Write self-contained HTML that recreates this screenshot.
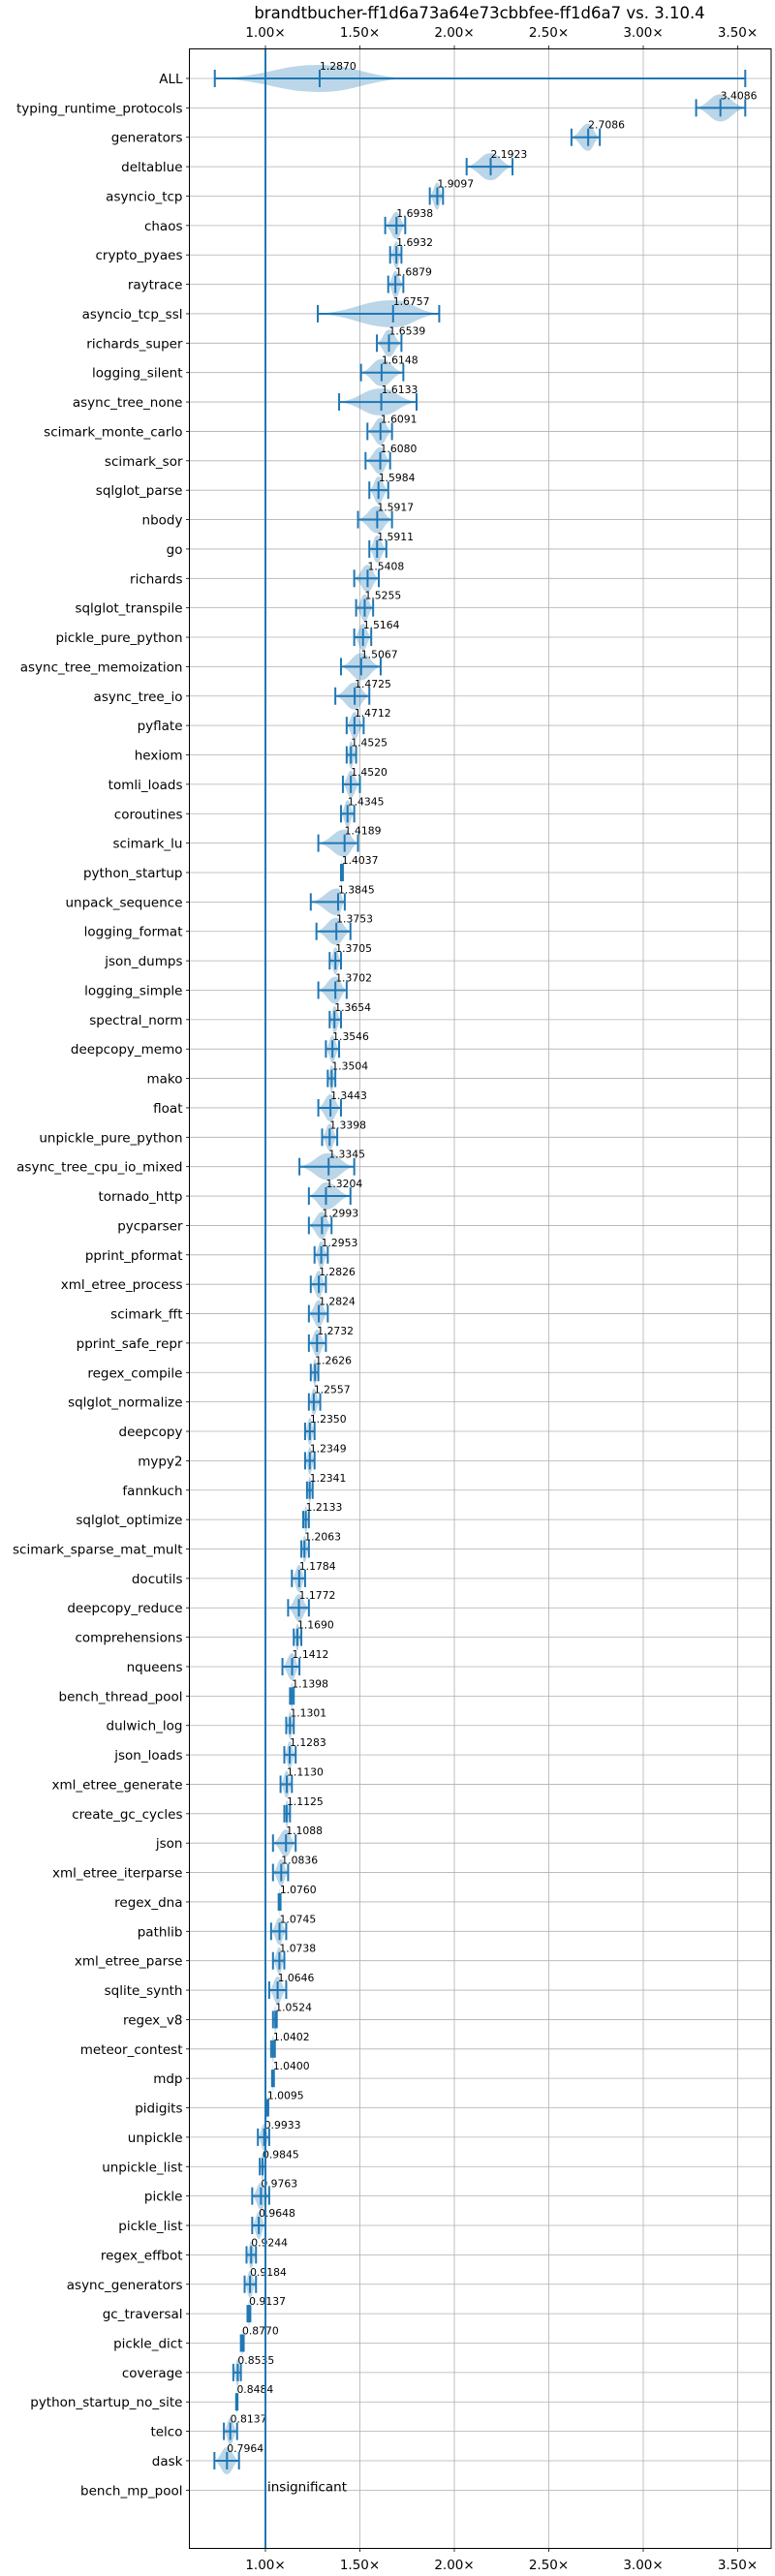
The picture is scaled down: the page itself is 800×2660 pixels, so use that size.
<!DOCTYPE html>
<html><head><meta charset="utf-8"><style>
html,body{margin:0;padding:0;background:#fff}
svg{display:block;font-family:"DejaVu Sans","Liberation Sans",sans-serif}
</style></head><body>
<svg id="chart" width="800" height="2660" viewBox="0 0 800 2660" xmlns="http://www.w3.org/2000/svg">
<text x="495" y="19" font-size="16.5" text-anchor="middle" fill="#000">brandtbucher-ff1d6a73a64e73cbbfee-ff1d6a7 vs. 3.10.4</text>
<g id="grid"></g><g id="marks"></g><g id="axes"></g>
</svg>
<script>
const benchmarks = ["ALL","typing_runtime_protocols","generators","deltablue","asyncio_tcp","chaos","crypto_pyaes","raytrace","asyncio_tcp_ssl","richards_super","logging_silent","async_tree_none","scimark_monte_carlo","scimark_sor","sqlglot_parse","nbody","go","richards","sqlglot_transpile","pickle_pure_python","async_tree_memoization","async_tree_io","pyflate","hexiom","tomli_loads","coroutines","scimark_lu","python_startup","unpack_sequence","logging_format","json_dumps","logging_simple","spectral_norm","deepcopy_memo","mako","float","unpickle_pure_python","async_tree_cpu_io_mixed","tornado_http","pycparser","pprint_pformat","xml_etree_process","scimark_fft","pprint_safe_repr","regex_compile","sqlglot_normalize","deepcopy","mypy2","fannkuch","sqlglot_optimize","scimark_sparse_mat_mult","docutils","deepcopy_reduce","comprehensions","nqueens","bench_thread_pool","dulwich_log","json_loads","xml_etree_generate","create_gc_cycles","json","xml_etree_iterparse","regex_dna","pathlib","xml_etree_parse","sqlite_synth","regex_v8","meteor_contest","mdp","pidigits","unpickle","unpickle_list","pickle","pickle_list","regex_effbot","async_generators","gc_traversal","pickle_dict","coverage","python_startup_no_site","telco","dask","bench_mp_pool"];
const medians = [1.2870,3.4086,2.7086,2.1923,1.9097,1.6938,1.6932,1.6879,1.6757,1.6539,1.6148,1.6133,1.6091,1.6080,1.5984,1.5917,1.5911,1.5408,1.5255,1.5164,1.5067,1.4725,1.4712,1.4525,1.4520,1.4345,1.4189,1.4037,1.3845,1.3753,1.3705,1.3702,1.3654,1.3546,1.3504,1.3443,1.3398,1.3345,1.3204,1.2993,1.2953,1.2826,1.2824,1.2732,1.2626,1.2557,1.2350,1.2349,1.2341,1.2133,1.2063,1.1784,1.1772,1.1690,1.1412,1.1398,1.1301,1.1283,1.1130,1.1125,1.1088,1.0836,1.0760,1.0745,1.0738,1.0646,1.0524,1.0402,1.0400,1.0095,0.9933,0.9845,0.9763,0.9648,0.9244,0.9184,0.9137,0.8770,0.8535,0.8484,0.8137,0.7964,null];
const lows = [0.732,3.28,2.62,2.065,1.87,1.634,1.66,1.65,1.277,1.59,1.506,1.39,1.54,1.53,1.55,1.49,1.55,1.47,1.48,1.47,1.40,1.37,1.43,1.43,1.41,1.40,1.28,1.40,1.24,1.27,1.34,1.28,1.34,1.32,1.33,1.28,1.30,1.18,1.23,1.23,1.26,1.24,1.23,1.23,1.24,1.23,1.21,1.21,1.22,1.20,1.19,1.14,1.12,1.15,1.09,1.13,1.11,1.10,1.08,1.10,1.04,1.04,1.07,1.03,1.04,1.02,1.04,1.03,1.035,1.005,0.96,0.97,0.93,0.93,0.90,0.89,0.905,0.87,0.83,0.845,0.78,0.73,null];
const highs = [3.54,3.54,2.77,2.308,1.94,1.74,1.72,1.73,1.92,1.72,1.73,1.80,1.67,1.66,1.65,1.67,1.64,1.60,1.57,1.56,1.61,1.55,1.52,1.48,1.50,1.47,1.49,1.41,1.42,1.45,1.40,1.43,1.40,1.39,1.37,1.40,1.38,1.47,1.45,1.35,1.33,1.32,1.33,1.32,1.28,1.29,1.26,1.26,1.25,1.23,1.23,1.21,1.23,1.19,1.18,1.15,1.15,1.16,1.14,1.13,1.16,1.12,1.08,1.11,1.10,1.11,1.06,1.05,1.045,1.015,1.02,1.00,1.02,1.00,0.95,0.95,0.92,0.885,0.87,0.852,0.85,0.86,null];
const xTicks = [1.0,1.5,2.0,2.5,3.0,3.5];
const xTickLabels = ["1.00×","1.50×","2.00×","2.50×","3.00×","3.50×"];

const NS="http://www.w3.org/2000/svg";
const L=195.5,R=796,T=50.5,B=2631.5,ROW0=81,ROWH=30.37;
const xs=v=>274+(v-1)*195;
const ys=i=>ROW0+i*ROWH;
function mk(tag,attrs,parent,text){const e=document.createElementNS(NS,tag);for(const k in attrs)e.setAttribute(k,attrs[k]);if(text!=null)e.textContent=text;parent.appendChild(e);return e;}
const grid=document.getElementById('grid'),marks=document.getElementById('marks'),axes=document.getElementById('axes');
const BLUE="#1f77b4";
// grid
xTicks.forEach((t,i)=>{
  const g=mk('line',{x1:xs(t),x2:xs(t),y1:T,y2:B,stroke:"#b0b0b0","stroke-width":0.8},grid);
  
  
});
benchmarks.forEach((b,i)=>{
  const g=mk('line',{x1:L,x2:R,y1:ys(i),y2:ys(i),stroke:"#b0b0b0","stroke-width":0.8},grid);
  
  
});
// violins
benchmarks.forEach((b,i)=>{
  const m=medians[i]; if(m==null) return;
  const y=ys(i);
  let vlo=lows[i],vhi=highs[i];
  if(i===0){vlo=0.75;vhi=1.75;}
  const x0=xs(vlo),x1=xs(vhi),xm=xs(m),h=14;
  const grp=mk('g',{},marks);
  
  
  const d=`M${x0},${y} C${(x0+xm)/2},${y-h*0.2} ${xm-(xm-x0)*0.4},${y-h} ${xm},${y-h} C${xm+(x1-xm)*0.4},${y-h} ${(xm+x1)/2},${y-h*0.2} ${x1},${y} C${(xm+x1)/2},${y+h*0.2} ${xm+(x1-xm)*0.4},${y+h} ${xm},${y+h} C${xm-(xm-x0)*0.4},${y+h} ${(x0+xm)/2},${y+h*0.2} ${x0},${y} Z`;
  const v=mk('path',{d:d,fill:BLUE,"fill-opacity":0.3},grp);
  
  
  const xl=xs(lows[i]),xh=xs(highs[i]);
  const w=mk('line',{x1:xl,x2:xh,y1:y,y2:y,stroke:BLUE,"stroke-width":2},grp);
  
  
  [xl,xh,xm].forEach(xx=>{
    const c=mk('line',{x1:xx,x2:xx,y1:y-9,y2:y+9,stroke:BLUE,"stroke-width":2},grp);
    
    
  });
  const t=mk('text',{x:xm,y:y-9,"font-size":10.8,fill:"#000"},grp,m.toFixed(4));
  
  
});
// insignificant
const ins=mk('text',{x:xs(1)+2,y:ys(benchmarks.length-1)+1,"font-size":13.5,fill:"#000"},marks,"insignificant");


// baseline 1.0
const bl=mk('line',{x1:xs(1),x2:xs(1),y1:T,y2:B,stroke:BLUE,"stroke-width":2},marks);


// frame
const fr=mk('rect',{x:L,y:T,width:R-L,height:B-T,fill:"none",stroke:"#000","stroke-width":1},axes);


xTicks.forEach((t,i)=>{
  const x=xs(t);
  const a=mk('line',{x1:x,x2:x,y1:T-3.5,y2:T,stroke:"#000","stroke-width":0.8},axes);
  
  
  const b=mk('line',{x1:x,x2:x,y1:B,y2:B+3.5,stroke:"#000","stroke-width":0.8},axes);
  
  
  const tl=mk('text',{x:x,y:38,"font-size":13.5,"text-anchor":"middle",fill:"#000"},axes,xTickLabels[i]);
  
  
  const bl2=mk('text',{x:x,y:2653,"font-size":13.5,"text-anchor":"middle",fill:"#000"},axes,xTickLabels[i]);
  
  
});
benchmarks.forEach((b,i)=>{
  const y=ys(i);
  const tk=mk('line',{x1:L-3.5,x2:L,y1:y,y2:y,stroke:"#000","stroke-width":0.8},axes);
  
  
  const lb=mk('text',{x:L-7,y:y+5,"font-size":13.5,"text-anchor":"end",fill:"#000"},axes,b);
  
  
});
</script>
</body></html>
